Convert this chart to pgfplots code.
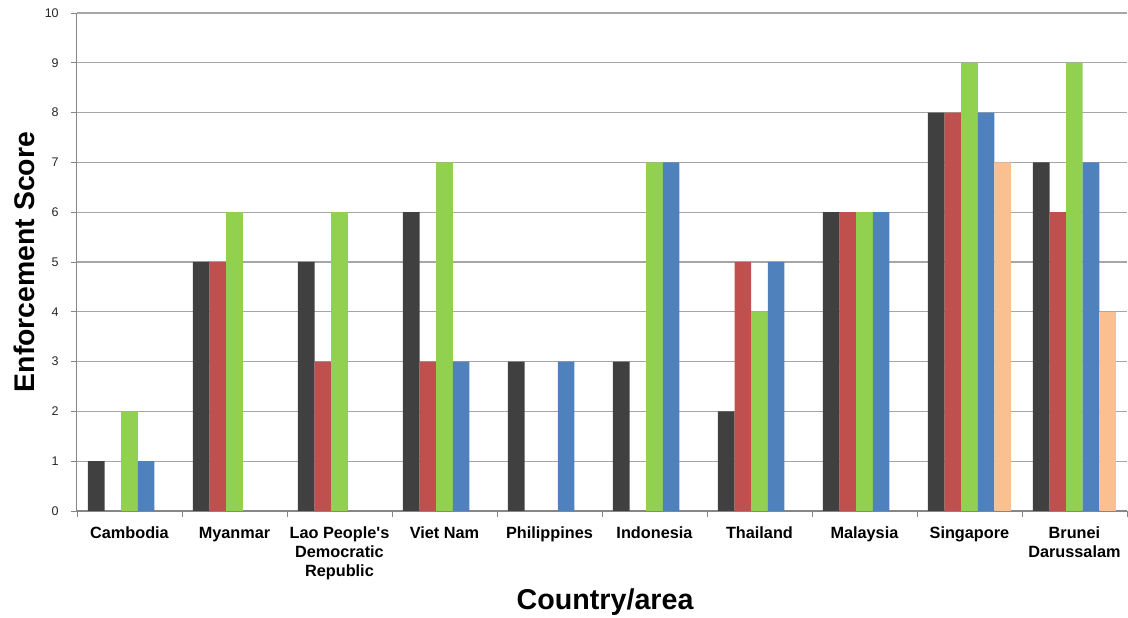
\documentclass[border=0pt]{standalone}
\usepackage{fontspec}
\setmainfont{Liberation Sans}
\usepackage{pgfplots}
\pgfplotsset{compat=1.18}

\definecolor{sDark}{HTML}{404040}
\definecolor{sRed}{HTML}{C0504D}
\definecolor{sGreen}{HTML}{92D050}
\definecolor{sBlue}{HTML}{4F81BD}
\definecolor{sPeach}{HTML}{FAC090}
\definecolor{gridgray}{HTML}{A6A6A6}
\definecolor{axisgray}{HTML}{868686}
\definecolor{ticktext}{HTML}{262626}

\begin{document}
\begin{tikzpicture}
\begin{axis}[
  name=ax,
  scale only axis,
  width=787.5pt, height=373.5pt,
  ybar=0pt, bar width=12.45pt,
  xmin=-0.5, xmax=9.5,
  ymin=0, ymax=10,
  ytick={0,...,10},
  xtick={0,...,9},
  minor xtick={-0.5,0.5,...,9.5},
  xticklabels={\strut Cambodia, \strut Myanmar, {\strut Lao People\textquotesingle s\\Democratic\\Republic}, \strut Viet Nam, \strut Philippines, \strut Indonesia, \strut Thailand, \strut Malaysia, \strut Singapore, {\strut Brunei\\Darussalam}},
  major x tick style={draw=none},
  minor x tick style={draw=axisgray, line width=0.6pt},
  minor tick length=4.5pt,
  major tick length=4.5pt,
  tick align=outside,
  ytick style={draw=axisgray, line width=0.6pt},
  axis x line*=bottom,
  axis y line*=left,
  axis line style={draw=axisgray, line width=0.8pt, -},
  ymajorgrids,
  major grid style={draw=gridgray, line width=0.8pt},
  /pgf/number format/assume math mode=true,
  xticklabel style={font=\bfseries\fontsize{12.2}{14.25}\selectfont, align=center, anchor=north, inner sep=0pt, yshift=-6pt},
  yticklabel style={font=\fontsize{9.4}{11}\selectfont, text=ticktext, anchor=east, inner sep=0pt, xshift=-9pt},
  xlabel={Country/area},
  ylabel={Enforcement Score},
  xlabel style={font=\bfseries\fontsize{21.5}{24}\selectfont, at={(axis description cs:0.503,-0.197)}, anchor=base},
  ylabel style={font=\bfseries\fontsize{21.3}{24}\selectfont, at={(axis description cs:-0.0505,0.5)}, anchor=center, rotate=0},
  clip=false,
]
% series 1 (dark grey)
\addplot[fill=sDark, draw=none] coordinates {(0,1) (1,5) (2,5) (3,6) (4,3) (5,3) (6,2) (7,6) (8,8) (9,7)};
% series 2 (red)
\addplot[fill=sRed, draw=none] coordinates {(1,5) (2,3) (3,3) (6,5) (7,6) (8,8) (9,6)};
% series 3 (green)
\addplot[fill=sGreen, draw=none] coordinates {(0,2) (1,6) (2,6) (3,7) (5,7) (6,4) (7,6) (8,9) (9,9)};
% series 4 (blue)
\addplot[fill=sBlue, draw=none] coordinates {(0,1) (3,3) (4,3) (5,7) (6,5) (7,6) (8,8) (9,7)};
% series 5 (peach)
\addplot[fill=sPeach, draw=none] coordinates {(8,7) (9,4)};
\coordinate (bbsw) at (rel axis cs:-0.0733,-0.2129);
\coordinate (bbne) at (rel axis cs:1.001,1.0261);
\end{axis}
\pgfresetboundingbox
\useasboundingbox (bbsw) rectangle (bbne);
\end{tikzpicture}
\end{document}
